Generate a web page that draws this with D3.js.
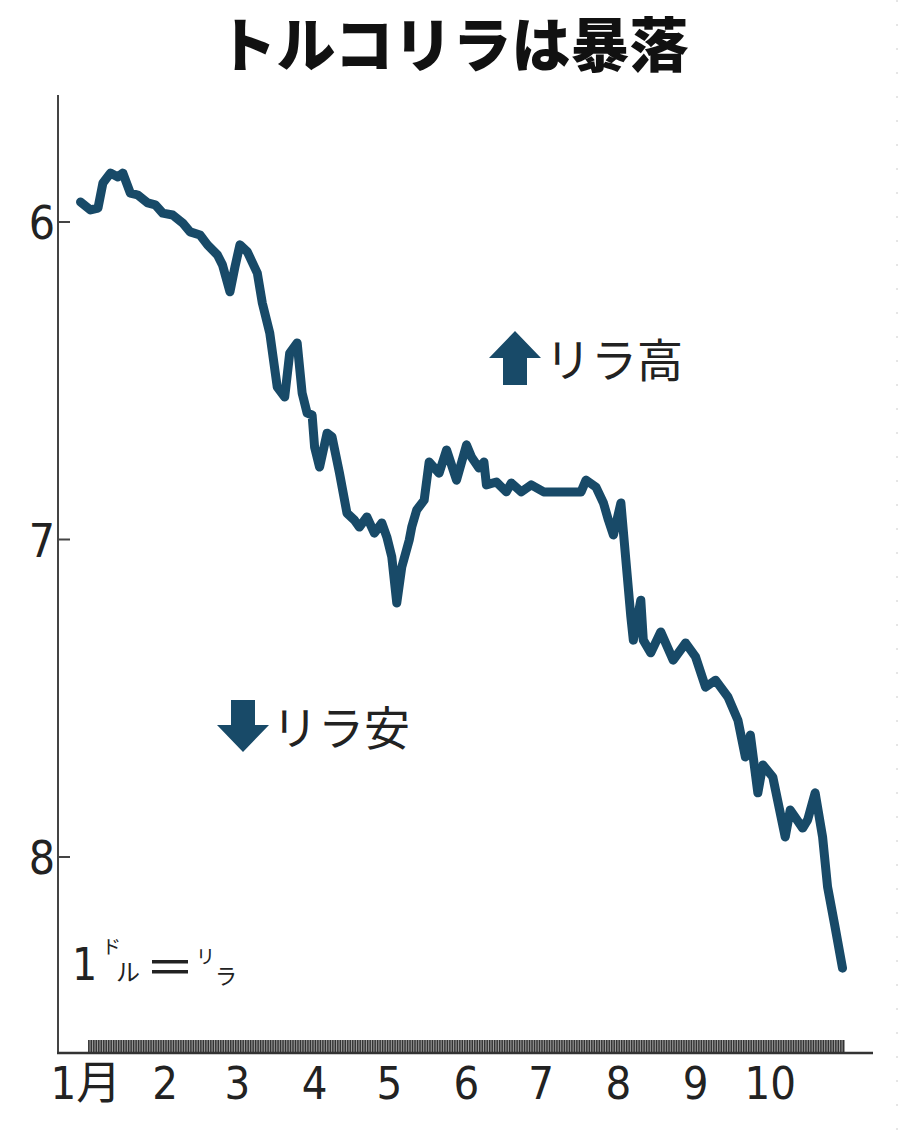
<!DOCTYPE html>
<html>
<head>
<meta charset="utf-8">
<title>トルコリラは暴落</title>
<script src="https://d3js.org/d3.v7.min.js"></script>
<style>
  body { margin: 0; background: #fff; }
  .num { font-family: 'Liberation Sans Narrow', 'DejaVu Sans Condensed', 'Noto Sans CJK JP', sans-serif; fill: #222; }
  .jp { font-family: 'Noto Sans CJK JP', sans-serif; fill: #222; }
</style>
</head>
<body>
<script>

// 1ドル = ○リラ
var dates = [
  "2019-12-29","2020-01-02","2020-01-05","2020-01-07","2020-01-10","2020-01-13","2020-01-15",
  "2020-01-18","2020-01-21","2020-01-25","2020-01-28","2020-01-31","2020-02-04","2020-02-08",
  "2020-02-11","2020-02-15","2020-02-18","2020-02-22","2020-02-24","2020-02-27","2020-02-29",
  "2020-03-02","2020-03-05","2020-03-09","2020-03-11","2020-03-14","2020-03-17","2020-03-20",
  "2020-03-22","2020-03-25","2020-03-27","2020-03-29","2020-03-31","2020-04-01","2020-04-03",
  "2020-04-06","2020-04-08","2020-04-11","2020-04-14","2020-04-17","2020-04-19","2020-04-22",
  "2020-04-25","2020-04-28","2020-04-30","2020-05-02","2020-05-04","2020-05-06","2020-05-09",
  "2020-05-10","2020-05-12","2020-05-15","2020-05-17","2020-05-21","2020-05-24","2020-05-28",
  "2020-06-01","2020-06-03","2020-06-06","2020-06-08","2020-06-09","2020-06-13","2020-06-17",
  "2020-06-19","2020-06-23","2020-06-27","2020-07-02","2020-07-17","2020-07-19","2020-07-23",
  "2020-07-26","2020-07-28","2020-07-30","2020-08-02","2020-08-04","2020-08-06","2020-08-07",
  "2020-08-10","2020-08-11","2020-08-14","2020-08-18","2020-08-23","2020-08-28","2020-09-01",
  "2020-09-05","2020-09-09","2020-09-14","2020-09-18","2020-09-21","2020-09-23","2020-09-26",
  "2020-09-28","2020-10-02","2020-10-07","2020-10-09","2020-10-14","2020-10-16","2020-10-19",
  "2020-10-22","2020-10-24","2020-10-27","2020-10-30"
];
var rates = [
  5.937,5.962,5.956,5.877,5.846,5.858,5.846,
  5.909,5.915,5.940,5.946,5.972,5.978,6.003,
  6.031,6.041,6.072,6.104,6.135,6.220,6.142,
  6.072,6.094,6.161,6.255,6.350,6.520,6.551,
  6.413,6.381,6.539,6.602,6.608,6.709,6.772,
  6.665,6.677,6.791,6.917,6.939,6.961,6.929,
  6.980,6.948,6.992,7.055,7.200,7.087,7.002,
  6.961,6.907,6.876,6.756,6.791,6.718,6.813,
  6.702,6.740,6.775,6.756,6.828,6.819,6.850,
  6.822,6.850,6.828,6.850,6.850,6.813,6.835,
  6.885,6.939,6.986,6.885,7.065,7.244,7.317,
  7.191,7.317,7.357,7.291,7.380,7.326,7.370,
  7.465,7.443,7.496,7.569,7.685,7.616,7.798,
  7.710,7.748,7.937,7.852,7.909,7.883,7.798,
  7.937,8.094,8.220,8.350
];
var yTicks = [6, 7, 8];
var monthLabels = ["1月","2","3","4","5","6","7","8","9","10"];

var width = 900, height = 1137;
var parse = d3.timeParse("%Y-%m-%d");
var data = dates.map(function(d, i) { return { date: parse(d), value: rates[i] }; });

var x = d3.scaleTime()
    .domain([new Date(2020, 0, 1), new Date(2020, 9, 31)])
    .range([88, 845]);

var y = d3.scaleLinear()
    .domain([6, 8])
    .range([222, 857]);

var svg = d3.select("body").append("svg")
    .attr("width", width)
    .attr("height", height);

// title
svg.append("text")
    .attr("class", "jp")
    .attr("x", 453)
    .attr("y", 67)
    .attr("text-anchor", "middle")
    .style("font-size", "59px")
    .style("font-weight", "900")
    .style("fill", "#111")
    .text("トルコリラは暴落");

// faint page edge
svg.append("line")
    .attr("x1", 897).attr("x2", 897)
    .attr("y1", 0).attr("y2", height)
    .style("stroke", "#ccc")
    .style("stroke-dasharray", "2,22");

// y axis
svg.append("line")
    .attr("x1", 58).attr("x2", 58)
    .attr("y1", 95).attr("y2", 1053)
    .style("stroke", "#444")
    .style("stroke-width", 2);

svg.selectAll(".ytick")
    .data(yTicks)
  .enter().append("line")
    .attr("class", "ytick")
    .attr("x1", 58).attr("x2", 70)
    .attr("y1", function(d) { return y(d); })
    .attr("y2", function(d) { return y(d); })
    .style("stroke", "#444")
    .style("stroke-width", 2);

svg.selectAll(".ylabel")
    .data(yTicks)
  .enter().append("text")
    .attr("class", "num")
    .attr("x", 55)
    .attr("y", function(d) { return y(d) + 17; })
    .attr("text-anchor", "end")
    .style("font-size", "46px")
    .text(function(d) { return d; });

// day band along the bottom
var days = d3.timeDay.range(new Date(2020, 0, 1), new Date(2020, 9, 31));
svg.append("rect")
    .attr("x", x(days[0]))
    .attr("y", 1040)
    .attr("width", x(new Date(2020, 9, 31)) - x(days[0]))
    .attr("height", 12)
    .style("fill", "#9a9a9a");

svg.selectAll(".day")
    .data(days)
  .enter().append("line")
    .attr("class", "day")
    .attr("x1", function(d) { return x(d) + 0.8; })
    .attr("x2", function(d) { return x(d) + 0.8; })
    .attr("y1", 1040).attr("y2", 1052)
    .style("stroke", "#333")
    .style("stroke-width", 1.4);

// x axis
svg.append("line")
    .attr("x1", 57).attr("x2", 873)
    .attr("y1", 1053).attr("y2", 1053)
    .style("stroke", "#333")
    .style("stroke-width", 2.5);

var months = d3.timeMonth.range(new Date(2020, 0, 1), new Date(2020, 9, 2));
svg.selectAll(".mlabel")
    .data(months)
  .enter().append("text")
    .attr("class", "num")
    .attr("x", function(d, i) { return x(d) + (i === 0 ? -2 : 0); })
    .attr("y", 1099)
    .attr("text-anchor", "middle")
    .style("font-size", "45px")
    .text(function(d, i) { return monthLabels[i]; });

// line
var line = d3.line()
    .x(function(d) { return x(d.date); })
    .y(function(d) { return y(d.value); })
    .curve(d3.curveLinear);

svg.append("path")
    .datum(data)
    .attr("d", line)
    .style("fill", "none")
    .style("stroke", "#184a68")
    .style("stroke-width", 9)
    .style("stroke-linejoin", "round")
    .style("stroke-linecap", "round");

// arrows
var arrowColor = "#184a68";
svg.append("path")
    .attr("d", "M515,331 L541,358 L527,358 L527,385 L503,385 L503,358 L489,358 Z")
    .style("fill", arrowColor);
svg.append("text")
    .attr("class", "jp")
    .attr("x", 545)
    .attr("y", 377)
    .style("font-size", "46px")
    .text("リラ高");

svg.append("path")
    .attr("d", "M243,752 L269,725 L255,725 L255,700 L231,700 L231,725 L217,725 Z")
    .style("fill", arrowColor);
svg.append("text")
    .attr("class", "jp")
    .attr("x", 272)
    .attr("y", 745)
    .style("font-size", "46px")
    .text("リラ安");

// unit note
var note = svg.append("g");
note.append("text").attr("class", "num").attr("x", 72).attr("y", 980)
    .style("font-size", "44px").text("1");
note.append("text").attr("class", "jp").attr("x", 102).attr("y", 954)
    .style("font-size", "19px").text("ド");
note.append("text").attr("class", "jp").attr("x", 116).attr("y", 981)
    .style("font-size", "24px").text("ル");
note.append("rect").attr("x", 152).attr("y", 960).attr("width", 36).attr("height", 3.5).style("fill", "#222");
note.append("rect").attr("x", 152).attr("y", 970).attr("width", 36).attr("height", 3.5).style("fill", "#222");
note.append("text").attr("class", "jp").attr("x", 196).attr("y", 964)
    .style("font-size", "19px").text("リ");
note.append("text").attr("class", "jp").attr("x", 215).attr("y", 984)
    .style("font-size", "22px").text("ラ");

</script>
</body>
</html>
